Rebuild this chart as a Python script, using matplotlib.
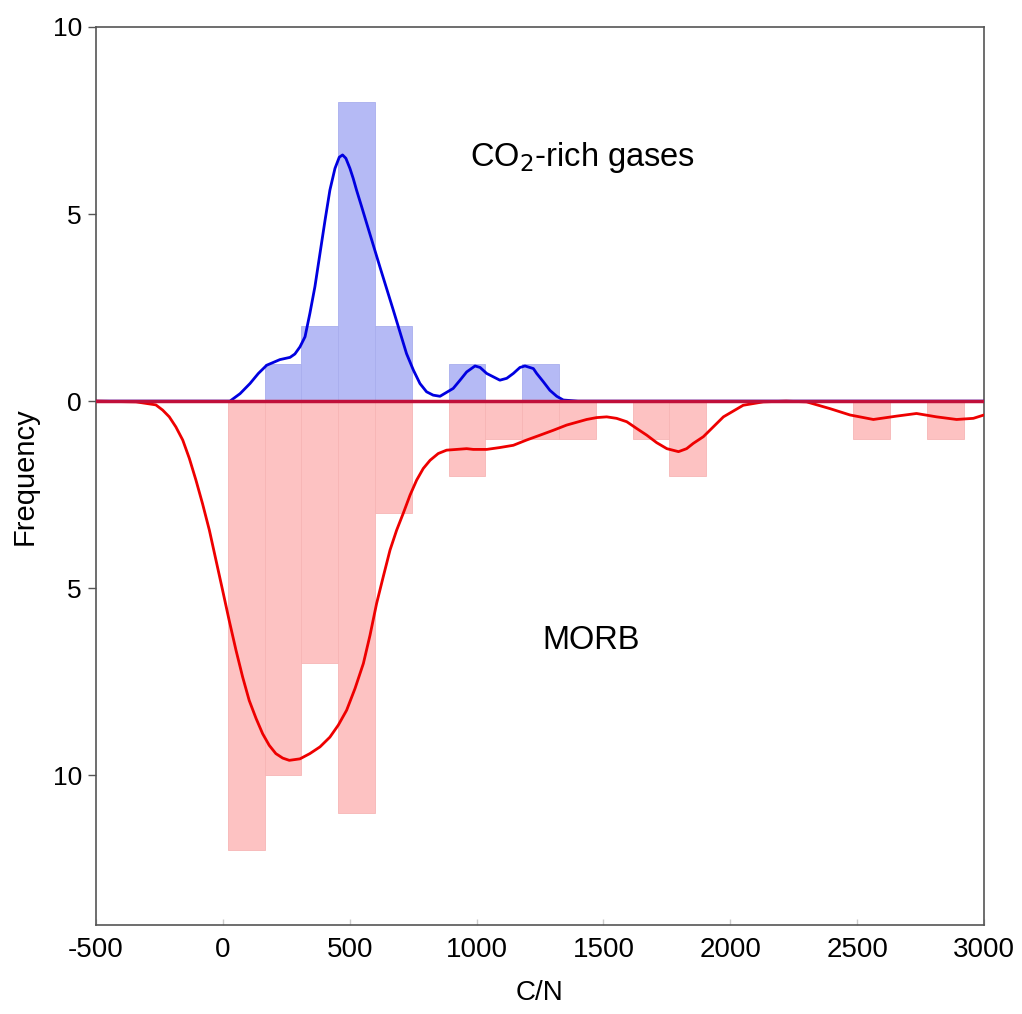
import matplotlib.pyplot as plt
import numpy as np

plt.rcParams['font.family'] = ['Liberation Sans', 'DejaVu Sans']
plt.rcParams['mathtext.fontset'] = 'custom'
plt.rcParams['mathtext.rm'] = 'Liberation Sans'
plt.rcParams['mathtext.default'] = 'regular'
plt.rcParams['axes.unicode_minus'] = False

# histogram bins (C/N)
bin_edges = [20, 165, 310, 455, 600, 745, 890, 1035, 1180, 1325, 1470,
             1615, 1760, 1905, 2050, 2195, 2340, 2485, 2630, 2775, 2920]
gas_counts = [0, 1, 2, 8, 2, 0, 1, 0, 1, 0, 0, 0, 0, 0, 0, 0, 0, 0, 0, 0]
morb_counts = [12, 10, 7, 11, 3, 0, 2, 1, 1, 1, 0, 1, 2, 0, 0, 0, 0, 1, 0, 1]

# density curves
gas_x = [-500, 0, 28, 68, 107, 140, 173, 225, 265, 284, 304, 324, 343, 363,
         383, 403, 422, 442, 459, 472, 485, 501, 514, 527, 547, 567, 619, 672,
         724, 751, 777, 803, 829, 856, 908, 935, 961, 994, 1014, 1040, 1066,
         1092, 1119, 1145, 1171, 1191, 1224, 1237, 1263, 1289, 1316, 1342,
         1400, 3000]
gas_y = [0, 0, 0.0, 0.2, 0.47, 0.74, 0.96, 1.11, 1.17, 1.26, 1.45, 1.72, 2.34,
         3.06, 3.95, 4.84, 5.64, 6.22, 6.52, 6.58, 6.49, 6.22, 5.95, 5.64, 5.2,
         4.75, 3.59, 2.43, 1.27, 0.83, 0.47, 0.25, 0.16, 0.13, 0.34, 0.56, 0.78,
         0.94, 0.9, 0.74, 0.65, 0.56, 0.61, 0.74, 0.9, 0.94, 0.87, 0.74, 0.52,
         0.29, 0.13, 0.03, 0, 0]

morb_x = [-500, -342, -264, -237, -211, -185, -158, -132, -106, -80, -53, -27,
          -1, 25, 52, 78, 104, 131, 157, 183, 209, 236, 262, 304, 343, 383,
          422, 455, 488, 521, 554, 580, 606, 632, 659, 685, 711, 738, 764, 790,
          817, 849, 882, 922, 961, 987, 1040, 1092, 1145, 1197, 1250, 1302,
          1355, 1434, 1473, 1513, 1552, 1592, 1631, 1671, 1710, 1750, 1796,
          1828, 1854, 1894, 1973, 2051, 2130, 2220, 2301, 2393, 2472, 2564,
          2656, 2734, 2813, 2892, 2958, 3000]
morb_y = [0, -0.02, -0.1, -0.24, -0.42, -0.69, -1.04, -1.53, -2.11, -2.74, -3.45,
          -4.25, -5.05, -5.86, -6.66, -7.37, -8.0, -8.48, -8.89, -9.2, -9.42,
          -9.54, -9.6, -9.56, -9.42, -9.24, -8.98, -8.66, -8.26, -7.68, -7.01,
          -6.26, -5.41, -4.70, -3.98, -3.45, -3.0, -2.51, -2.11, -1.80, -1.58,
          -1.40, -1.31, -1.29, -1.27, -1.29, -1.29, -1.24, -1.18, -1.04, -0.91,
          -0.78, -0.64, -0.49, -0.44, -0.42, -0.46, -0.55, -0.73, -0.91, -1.11,
          -1.27, -1.35, -1.27, -1.13, -0.95, -0.42, -0.11, -0.02, 0.0, -0.02,
          -0.2, -0.37, -0.49, -0.40, -0.33, -0.42, -0.49, -0.46, -0.37]

y_ticks = [10, 5, 0, -5, -10]
y_tick_labels = ['10', '5', '0', '5', '10']
x_ticks = [-500, 0, 500, 1000, 1500, 2000, 2500, 3000]

fig = plt.figure(figsize=(10.22, 10.14), dpi=100)
ax = fig.add_axes([0.0939, 0.0878, 0.8689, 0.8856])

lefts = np.array(bin_edges[:-1])
widths = np.diff(bin_edges)
ax.bar(lefts, gas_counts, width=widths, align='edge', color='#b5baf5',
       edgecolor='#a9aeee', linewidth=0.6, zorder=1)
ax.bar(lefts, -np.array(morb_counts), width=widths, align='edge',
       color='#fdc2c2', edgecolor='#f7b5b5', linewidth=0.6, zorder=1)

ax.plot(gas_x, gas_y, color='#0000e0', linewidth=2, zorder=3)
ax.plot(morb_x, morb_y, color='#ee0000', linewidth=2, zorder=3)
ax.axhline(0, color='#c0103a', linewidth=2.5, zorder=4)

ax.text(974, 6.5, 'CO$\\mathsf{_2}$-rich gases', fontsize=23.5, va='center', ha='left')
ax.text(1451, -6.4, 'MORB', fontsize=23.5, va='center', ha='center')

ax.set_xlim(-500, 3000)
ax.set_ylim(-14, 10)
ax.set_yticks(y_ticks)
ax.set_yticklabels(y_tick_labels)
ax.set_xticks(x_ticks)
ax.tick_params(axis='y', direction='out', length=6, width=1, color='#555555',
               labelsize=19, pad=4)
ax.tick_params(axis='x', direction='in', length=4, width=1, color='#cccccc',
               labelsize=20, pad=9)
for s in ax.spines.values():
    s.set_color('#555555')
    s.set_linewidth(1.2)

ax.set_xlabel('C/N', fontsize=20, labelpad=12)
ax.set_ylabel('Frequency', fontsize=21, labelpad=10)

fig.savefig('out.png', dpi=100)
